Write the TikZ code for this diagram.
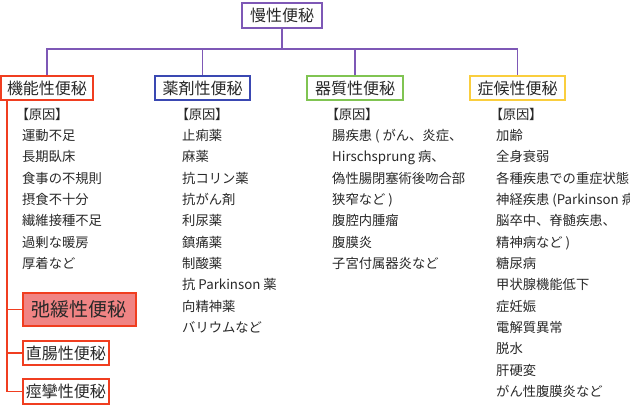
\documentclass[tikz,border=0pt]{standalone}
\usepackage{fontspec}
\setmainfont{Noto Sans CJK JP}
\usetikzlibrary{positioning,calc}

\definecolor{topline}{RGB}{126,88,182}
\definecolor{funcred}{RGB}{240,62,32}
\definecolor{drugblue}{RGB}{58,72,178}
\definecolor{orggreen}{RGB}{128,196,82}
\definecolor{sympyellow}{RGB}{250,206,62}
\definecolor{slackfill}{RGB}{240,132,132}
\definecolor{textgray}{RGB}{40,40,40}

\newcommand\causehead{{\addfontfeatures{RawFeature=+palt}【原因】}}

\begin{document}
\begin{tikzpicture}[x=1pt,y=-1pt,
    box/.style={draw,line width=1.6pt,inner sep=0pt,minimum height=24pt,
                font=\fontsize{16}{18}\selectfont,text=textgray},
    item/.style={anchor=west,inner sep=0pt,text height=10pt,text depth=2pt,
                 font=\fontsize{13.3}{16}\selectfont,text=textgray},
    link/.style={line width=1.6pt}]
  \useasboundingbox (0,0) rectangle (630,405);

  \node[box,draw=topline,minimum width=80pt,minimum height=25pt] (chronic) at (282,15.5) {慢性便秘};

  \node[box,draw=funcred,minimum width=92pt] (func) at (47,88) {機能性便秘};
  \node[box,draw=drugblue,minimum width=95pt] (drug) at (202.5,88) {薬剤性便秘};
  \node[box,draw=orggreen,minimum width=96pt] (organic) at (355,88) {器質性便秘};
  \node[box,draw=sympyellow,minimum width=95pt] (symp) at (517.5,88) {症候性便秘};

  \foreach \c in {func,drug,organic,symp}
    \draw[link,topline] (chronic.south) -- ++(0,20) -| (\c.north);

  % causes
  \node[item] (funchead) at (22,115) {\causehead};
  \foreach \t [count=\i] in {運動不足,長期臥床,食事の不規則,摂食不十分,繊維接種不足,過剰な暖房,厚着など}
    \node[item] (func\i) at (22,115+21.35*\i) {\t};

  \node[item] (drughead) at (182,115) {\causehead};
  \foreach \t [count=\i] in {止痢薬,麻薬,抗コリン薬,抗がん剤,利尿薬,鎮痛薬,制酸薬,抗 Parkinson 薬,向精神薬,バリウムなど}
    \node[item] (drug\i) at (182,115+21.35*\i) {\t};

  \node[item] (organichead) at (332,115) {\causehead};
  \foreach \t [count=\i] in {腸疾患 ( がん、炎症、,Hirschsprung 病、,偽性腸閉塞術後吻合部,狭窄など ),腹腔内腫瘤,腹膜炎,子宮付属器炎など}
    \node[item] (organic\i) at (332,115+21.35*\i) {\t};

  \node[item] (symphead) at (496,115) {\causehead};
  \foreach \t [count=\i] in {加齢,全身衰弱,各種疾患での重症状態,神経疾患 (Parkinson 病、,脳卒中、脊髄疾患、,精神病など ),糖尿病,甲状腺機能低下,症妊娠,電解質異常,脱水,肝硬変,がん性腹膜炎など}
    \node[item] (symp\i) at (496,115+21.35*\i) {\t};

  % subtypes of functional constipation
  \node[box,draw=funcred,fill=slackfill,anchor=west,minimum width=113pt,minimum height=33pt,
        font=\fontsize{19}{22}\selectfont] (slack) at (22,309.5) {弛緩性便秘};
  \node[box,draw=funcred,anchor=west,minimum width=86pt] (rectal) at (22,353) {直腸性便秘};
  \node[box,draw=funcred,anchor=west,minimum width=86pt,minimum height=25pt] (spasm) at (22,391.5) {痙攣性便秘};

  \coordinate (spine) at ($(func.south west)+(6.5,0)$);
  \foreach \s in {slack,rectal,spasm}
    \draw[link,funcred] (spine) |- (\s.west);
\end{tikzpicture}
\end{document}
